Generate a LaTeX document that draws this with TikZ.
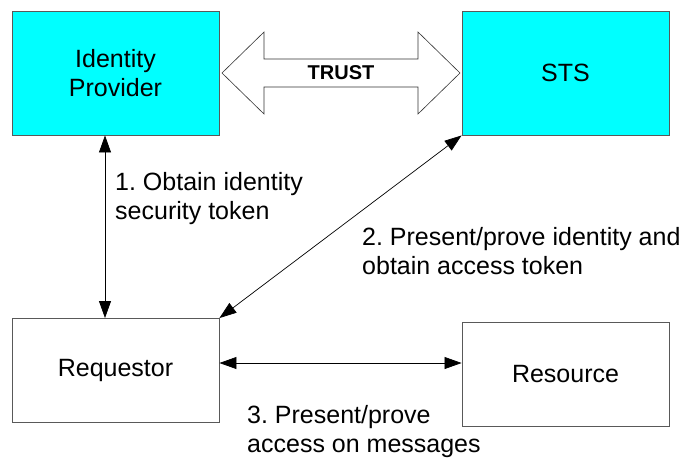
\documentclass[tikz,border=0pt]{standalone}
\usepackage{fontspec}
\setmainfont{Liberation Sans}
\usetikzlibrary{arrows.meta}
\definecolor{boxcyan}{RGB}{0,255,255}
\frenchspacing
\begin{document}
\begin{tikzpicture}[x=1pt,y=-1pt,
  box/.style={draw=black!65, line width=0.9pt, minimum width=207pt, inner sep=0pt, align=center,
    font=\fontsize{25}{29}\selectfont},
  idbox/.style={box, fill=boxcyan, minimum height=124pt},
  plainbox/.style={box, fill=white, minimum height=104pt},
  lbl/.style={anchor=north west, inner sep=0pt, align=left, font=\fontsize{25}{29}\selectfont},
  conn/.style={line width=0.7pt, {Triangle[length=17pt,width=12pt]}-{Triangle[length=17pt,width=12pt]}}]
\useasboundingbox (0,0) rectangle (685,458);
\node[idbox] (idp) at (115.5,73) {Identity\\Provider};
\node[idbox] (sts) at (565.5,73) {STS};
\node[plainbox] (req) at (115.5,370.5) {Requestor};
\node[plainbox] (res) at (565.5,374) {Resource};
% trust arrow
\coordinate (tl) at (222,73);
\coordinate (tr) at (460,73);
\draw[black!80, line width=0.6pt, fill=white]
  (tl) -- (264,32) -- (264,59) -- (418,59) -- (418,32) -- (tr) -- (418,114) -- (418,87) -- (264,87) -- (264,114) -- cycle;
\node[font=\bfseries\fontsize{20}{24}\selectfont] (trust) at (341,73) {TRUST};
% connectors
\draw[conn] (idp.south -| 105,0) -- (req.north -| 105,0);
\draw[conn] (sts.south west) -- (req.north east);
\draw[conn] (req.east |- 0,363) -- (res.west |- 0,363);
% labels
\node[lbl] (l1) at (115,172) {1. Obtain identity\\security token};
\node[lbl] (l2) at (362,227) {2. Present/prove identity and\\obtain access token};
\node[lbl] (l3) at (247,405) {3. Present/prove\\access on messages};
\end{tikzpicture}
\end{document}
